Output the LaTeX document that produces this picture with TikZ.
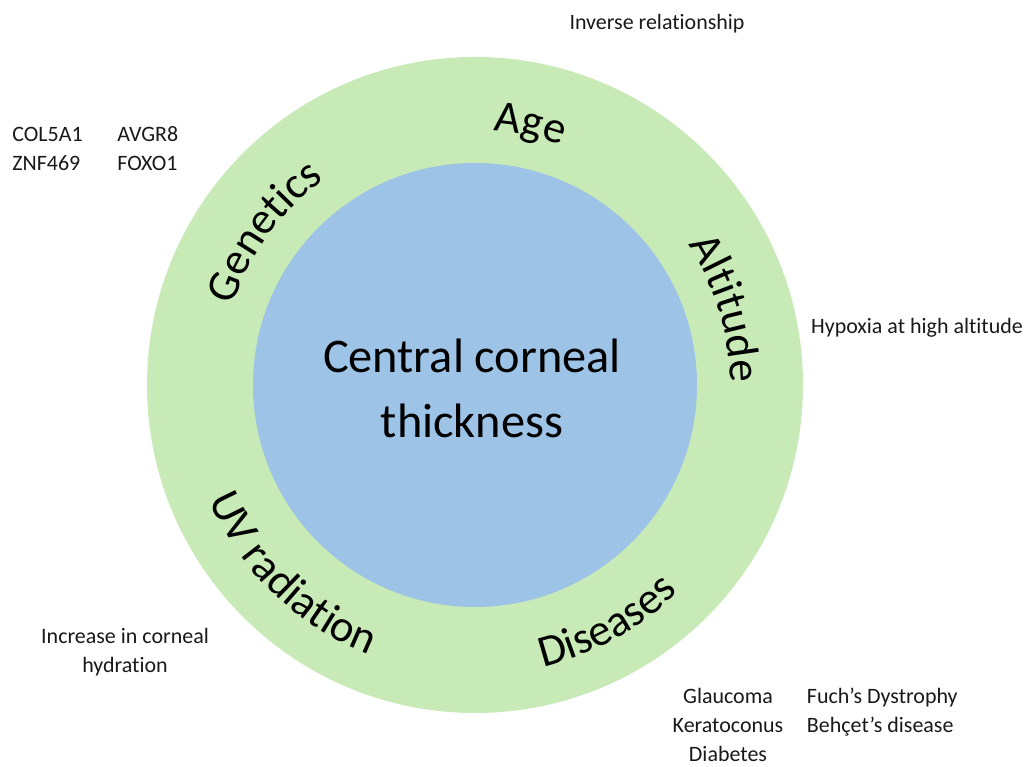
\documentclass[tikz,border=0pt]{standalone}
\usepackage{fontspec}
\setmainfont{Carlito}[Ligatures=NoCommon]
\usepackage{tikz}
\usetikzlibrary{positioning, decorations.text}

\definecolor{ringgreen}{RGB}{199,234,182}
\definecolor{coreblue}{RGB}{157,195,230}

\newcommand{\ringfont}{\fontsize{25.5}{30}\selectfont}
\newcommand{\corefont}{\fontsize{27.5}{37}\selectfont}

\tikzset{
    note/.style={font=\fontsize{12.5}{16.5}\selectfont, inner sep=0pt, text=black!90},
    ringtop/.style={decorate, decoration={text along path, text align=center, text={|\ringfont|#1}}},
    ringbot/.style={decorate, decoration={text along path, text align=center, text={|\ringfont|#1}}}
}

\begin{document}
\begin{tikzpicture}
    \useasboundingbox (0, 0) rectangle (20.56, 15.34);

    \coordinate (c) at (9.5, 7.64);

    \fill[ringgreen] (c) circle (6.56);
    \fill[coreblue] (c) circle (4.44);

    \node[font=\corefont, align=center, inner sep=0pt] (core) at (9.44, 7.58) {Central corneal\\thickness};

    \foreach \a/\t in {78/Age, 144/Genetics, 17/Altitude} {
        \path[ringtop=\t] (c) ++(\a+55:5.1) arc[start angle=\a+55, end angle=\a-55, radius=5.1];
    }
    \foreach \a/\t in {-61/Diseases, -134/UV radiation} {
        \path[ringbot=\t] (c) ++(\a-65:5.8) arc[start angle=\a-65, end angle=\a+65, radius=5.8];
    }

    \node[note] (inv) at (13.14, 14.86) {Inverse relationship};
    \node[note] (hyp) at (18.34, 8.78) {Hypoxia at high altitude};

    \node[note, anchor=west, align=left] (genesa) at (0.24, 12.36) {COL5A1\\ZNF469};
    \node[note, anchor=west, align=left] (genesb) at (2.34, 12.36) {AVGR8\\FOXO1};

    \node[note, align=center] (uvnote) at (2.5, 2.3) {Increase in corneal\\hydration};

    \node[note, align=center] (disa) at (14.56, 0.84) {Glaucoma\\Keratoconus\\Diabetes};
    \node[note, align=left, anchor=north west] (disb) at ([xshift=4.6mm]disa.north east) {Fuch’s Dystrophy\\Behçet’s disease};
\end{tikzpicture}
\end{document}
